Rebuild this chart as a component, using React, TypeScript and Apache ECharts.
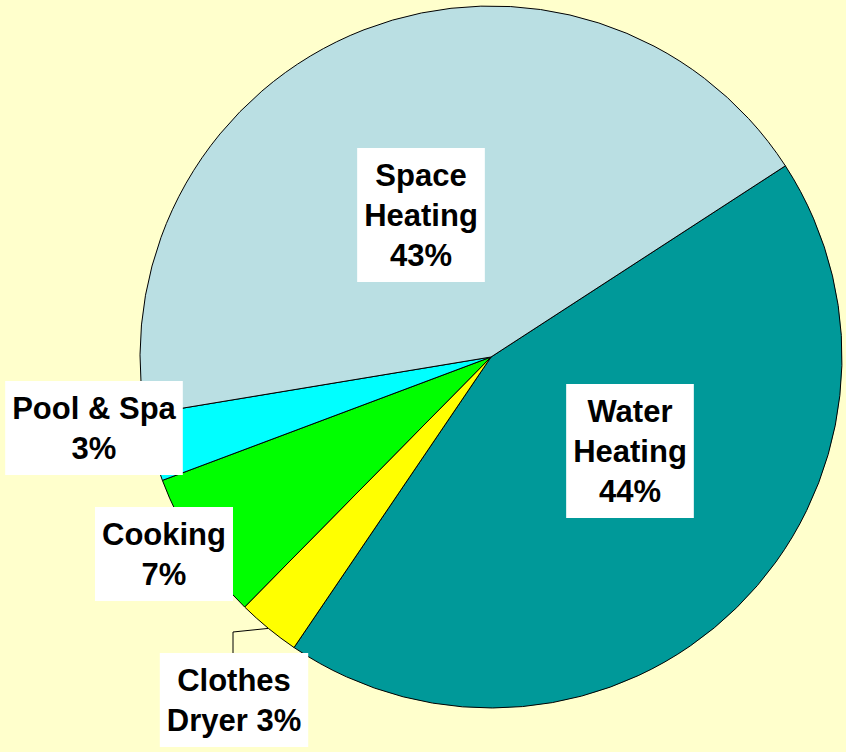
import React, { useEffect, useRef } from "react";
import * as echarts from "echarts";

// Data (clockwise from the Space/Water boundary)
const categories = ["Water Heating", "Clothes Dryer", "Cooking", "Pool & Spa", "Space Heating"];
const shares = [43.65, 2.9, 6.9, 3.1, 43.45];
const labelPrefixes = ["Water\nHeating\n", "Clothes\nDryer ", "Cooking\n", "Pool & Spa\n", "Space\nHeating\n"];
const colors = ["#009999", "#FFFF00", "#00FF00", "#00FFFF", "#BADFE3"];

// label box centres (layout, not data)
const labelCenters: [number, number][] = [
  [630, 451],
  [234, 700],
  [164, 554],
  [94, 428],
  [421, 215],
];

export default function App() {
  const ref = useRef<HTMLDivElement>(null);
  useEffect(() => {
    if (!ref.current) return;
    const chart = echarts.init(ref.current, null, { renderer: "svg" });
    chart.setOption({
      animation: false,
      backgroundColor: "#FFFFCC",
      series: [
        {
          type: "pie",
          center: [491, 357],
          radius: 351,
          startAngle: 33,
          clockwise: true,
          silent: true,
          emphasis: { disabled: true },
          itemStyle: { borderColor: "#000", borderWidth: 1 },
          label: {
            show: true,
            position: "inside",
            overflow: "none",
            color: "#000",
            fontFamily: "Liberation Sans, Arial, sans-serif",
            fontWeight: "bold",
            fontSize: 31,
            lineHeight: 40,
            backgroundColor: "#FFFFFF",
            padding: [7, 7, 7, 7],
            align: "center",
            formatter: (p: any) => labelPrefixes[p.dataIndex] + Math.round(p.value) + "%",
          },
          labelLine: { show: false, lineStyle: { color: "#000", width: 1 } },
          labelLayout: (params: any) => {
            const i = params.dataIndex;
            const [cx, cy] = labelCenters[i];
            const out: any = { x: cx, y: cy, align: "center", verticalAlign: "middle" };
            if (i === 1 && params.labelLinePoints && params.labelLinePoints[0]) {
              const p0 = params.labelLinePoints[0];
              out.labelLinePoints = [
                [p0[0], p0[1]],
                [233, 632],
                [233, 653],
              ];
            }
            return out;
          },
          data: categories.map((name, i) => ({
            name,
            value: shares[i],
            itemStyle: { color: colors[i] },
            label: i === 1 ? { position: "outside", overflow: "none" } : {},
            labelLine: i === 1 ? { show: true, length: 10, length2: 20, lineStyle: { color: "#000", width: 1 } } : { show: false },
          })),
        },
      ],
    });
    return () => chart.dispose();
  }, []);
  return <div ref={ref} style={{ position: "fixed", left: 0, top: 0, width: 846, height: 752 }} />;
}
